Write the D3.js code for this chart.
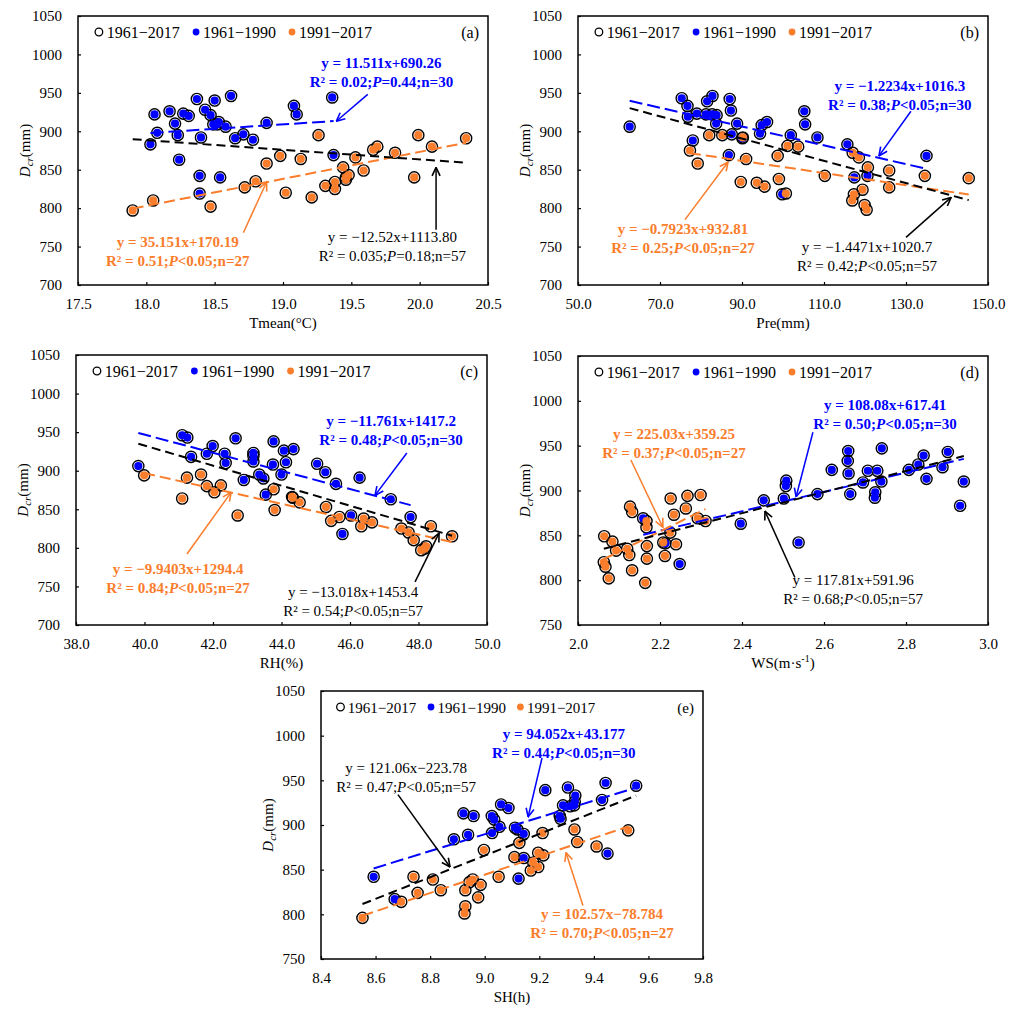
<!DOCTYPE html>
<html>
<head>
<meta charset="utf-8">
<script src="https://cdnjs.cloudflare.com/ajax/libs/d3/7.8.5/d3.min.js"></script>
<style>
body{margin:0;background:#fff}
svg{font-family:"Liberation Serif","Times New Roman",serif}
</style>
</head>
<body>
<svg id="chart" width="1017" height="1012"></svg>
<script>
// D_cr vs climate factors, 1961-1990 (blue) and 1991-2017 (orange)
var aBlue=[[18.03,883],[18.06,922],[18.08,898],[18.17,926],[18.21,910],[18.23,895],[18.27,923],[18.31,920],[18.24,863],[18.37,942],[18.43,928],[18.50,940],[18.47,921],[18.49,909],[18.53,912],[18.52,909],[18.58,906],[18.40,892],[18.62,946],[18.65,891],[18.71,896],[18.78,889],[18.88,911],[19.08,933],[19.10,922],[19.36,944],[19.37,869],[18.39,842],[18.54,840],[18.39,819]];
var aOrange=[[17.90,797],[18.05,810],[18.47,802],[18.72,827],[18.80,835],[18.88,858],[18.98,868],[19.02,820],[19.13,864],[19.21,814],[19.26,895],[19.31,829],[19.38,834],[19.38,825],[19.44,853],[19.46,840],[19.48,843],[19.46,837],[19.53,866],[19.59,849],[19.66,876],[19.69,880],[19.82,872],[19.96,840],[19.99,895],[20.09,880],[20.34,891]];
var bBlue=[[62.6,906],[75.3,943],[76.7,933],[76.8,919],[79.0,923],[81.2,922],[81.5,939],[82.8,946],[82.7,922],[83.8,921],[83.7,910],[78.0,888],[87.0,942],[87.3,927],[87.5,896],[86.8,869],[88.8,910],[90.1,891],[94.4,897],[94.8,908],[96.1,912],[105.2,926],[105.4,909],[108.4,892],[101.9,895],[115.7,883],[117.4,840],[120.6,842],[99.8,818],[135.0,868]];
var bOrange=[[77.3,875],[79.2,858],[82.0,895],[85.2,895],[90.2,892],[89.7,834],[91.0,864],[93.6,833],[95.5,828],[98.7,868],[99.0,838],[100.7,819],[101.1,881],[103.7,880],[110.2,842],[117.0,872],[118.5,866],[117.3,818],[116.9,810],[119.4,824],[119.9,804],[120.4,798],[120.7,853],[125.9,849],[125.9,827],[134.6,842],[145.3,839]];
var cBlue=[[39.82,906],[41.10,946],[41.25,943],[41.36,918],[41.82,922],[41.99,932],[42.34,922],[42.37,910],[42.66,942],[42.90,888],[43.18,923],[43.18,919],[43.18,912],[43.35,895],[43.47,890],[43.54,869],[43.77,938],[43.75,908],[44.00,895],[44.07,926],[44.13,911],[44.35,928],[45.04,909],[45.28,898],[45.59,883],[46.03,842],[45.78,818],[46.28,891],[47.19,863],[47.77,840]];
var cOrange=[[39.99,894],[41.10,864],[41.24,891],[41.65,895],[41.82,880],[42.04,872],[42.23,881],[42.72,842],[43.77,876],[43.80,849],[44.31,866],[44.33,865],[44.53,859],[45.30,853],[45.45,835],[45.69,840],[46.33,828],[46.40,838],[46.64,833],[47.50,825],[47.71,820],[47.86,810],[48.08,797],[48.22,802],[48.18,799],[48.36,828],[48.98,815]];
var dBlue=[[2.159,869],[2.213,841],[2.248,818],[2.397,863],[2.453,889],[2.502,891],[2.508,911],[2.507,905],[2.538,842],[2.584,896],[2.619,923],[2.659,944],[2.658,933],[2.660,919],[2.664,896],[2.695,909],[2.707,922],[2.730,922],[2.725,898],[2.724,892],[2.740,910],[2.741,947],[2.807,923],[2.830,929],[2.843,939],[2.850,913],[2.889,926],[2.902,943],[2.932,883],[2.941,910]];
var dOrange=[[2.064,849],[2.063,820],[2.067,815],[2.075,802],[2.084,843],[2.093,833],[2.120,835],[2.127,882],[2.132,876],[2.125,828],[2.132,811],[2.164,797],[2.167,866],[2.167,859],[2.168,838],[2.168,824],[2.208,842],[2.212,827],[2.226,891],[2.234,873],[2.239,840],[2.263,880],[2.267,894],[2.292,869],[2.299,895],[2.311,866],[2.225,853]];
var eBlue=[[8.593,842],[8.670,817],[8.887,884],[8.922,913],[8.939,889],[8.959,910],[9.026,910],[9.035,906],[9.027,891],[9.054,898],[9.060,923],[9.087,919],[9.111,897],[9.120,895],[9.124,840],[9.143,890],[9.143,863],[9.222,939],[9.275,910],[9.278,907],[9.287,922],[9.305,942],[9.313,921],[9.328,922],[9.332,933],[9.330,926],[9.430,928],[9.443,947],[9.450,868],[9.555,944]];
var eOrange=[[8.552,796],[8.694,814],[8.739,842],[8.754,824],[8.810,839],[8.839,827],[8.926,801],[8.929,809],[8.929,827],[8.944,836],[8.956,839],[8.976,819],[8.985,833],[8.997,872],[9.051,842],[9.109,864],[9.127,880],[9.169,849],[9.178,858],[9.196,853],[9.196,869],[9.215,866],[9.212,891],[9.329,895],[9.339,881],[9.410,876],[9.526,894]];

// fits: blue, orange, black (slope, intercept)
var aFits=[[11.511,690.26],[35.151,170.19],[-12.52,1113.80]];
var bFits=[[-1.2234,1016.3],[-0.7923,932.81],[-1.4471,1020.7]];
var cFits=[[-11.761,1417.2],[-9.9403,1294.4],[-13.018,1453.4]];
var dFits=[[108.08,617.41],[225.03,359.25],[117.81,591.96]];
var eFits=[[94.052,43.177],[102.57,-78.784],[121.06,-223.78]];

var aEq=[["y = 11.511x+690.26","R² = 0.02;P=0.44;n=30"],["y = 35.151x+170.19","R² = 0.51;P<0.05;n=27"],["y = −12.52x+1113.80","R² = 0.035;P=0.18;n=57"]];
var bEq=[["y = −1.2234x+1016.3","R² = 0.38;P<0.05;n=30"],["y = −0.7923x+932.81","R² = 0.25;P<0.05;n=27"],["y = −1.4471x+1020.7","R² = 0.42;P<0.05;n=57"]];
var cEq=[["y = −11.761x+1417.2","R² = 0.48;P<0.05;n=30"],["y = −9.9403x+1294.4","R² = 0.84;P<0.05;n=27"],["y = −13.018x+1453.4","R² = 0.54;P<0.05;n=57"]];
var dEq=[["y = 108.08x+617.41","R² = 0.50;P<0.05;n=30"],["y = 225.03x+359.25","R² = 0.37;P<0.05;n=27"],["y = 117.81x+591.96","R² = 0.68;P<0.05;n=57"]];
var eEq=[["y = 94.052x+43.177","R² = 0.44;P<0.05;n=30"],["y = 102.57x−78.784","R² = 0.70;P<0.05;n=27"],["y = 121.06x−223.78","R² = 0.47;P<0.05;n=57"]];

var legendNames=["1961−2017","1961−1990","1991−2017"];
var yTicks1=[700,750,800,850,900,950,1000,1050];
var yTicks2=[750,800,850,900,950,1000,1050];

var BLUE="#0000ff", ORANGE="#fa7d2c", BLACK="#000";
var colors=[BLUE,ORANGE,BLACK];
var dashes=["13,5","11,5","9,5"];

// layout: plot box, axes, annotation spots (text centre, arrow from/to) in data units
var panels=[
  {id:"(a)",blue:aBlue,orange:aOrange,fits:aFits,eq:aEq,l:78,t:16,r:488,b:285,lf:16,
   xDom:[17.5,20.5],xTicks:[17.5,18,18.5,19,19.5,20,20.5],yDom:[700,1050],yTicks:yTicks1,xTitle:"Tmean(°C)",
   notes:[[19.72,989,19.62,948,19.39,913],[18.23,756,18.71,768,18.88,834],[19.80,762,20.12,772,20.12,853]]},
  {id:"(b)",blue:bBlue,orange:bOrange,fits:bFits,eq:bEq,l:578,t:16,r:988,b:285,lf:16,
   xDom:[50,150],xTicks:[50,70,90,110,130,150],yDom:[700,1050],yTicks:yTicks1,xTitle:"Pre(mm)",
   notes:[[128.5,959,131.2,926,123.4,868],[75.6,773,76.1,785,86.6,860],[120.5,749,130,762,141,814]]},
  {id:"(c)",blue:cBlue,orange:cOrange,fits:cFits,eq:cEq,l:76,t:355,r:487,b:625,lf:16,
   xDom:[38,50],xTicks:[38,40,42,44,46,48,50],yDom:[700,1050],yTicks:yTicks1,xTitle:"RH(%)",
   notes:[[47.2,964,47.66,923,46.73,868],[40.98,773,41.24,792,42.53,872],[46.09,743,47.9,756,48.6,819]]},
  {id:"(d)",blue:dBlue,orange:dOrange,fits:dFits,eq:dEq,l:578,t:356,r:988,b:625,lf:16,
   xDom:[2,3],xTicks:[2,2.2,2.4,2.6,2.8,3],yDom:[750,1050],yTicks:yTicks2,xTitle:"WS",
   notes:[[2.749,995,2.573,965,2.532,893],[2.234,963,2.129,934,2.207,859],[2.671,800,2.529,803,2.456,877]]},
  {id:"(e)",blue:eBlue,orange:eOrange,fits:eFits,eq:eEq,l:321,t:691,r:703,b:959,lf:15,
   xDom:[8.4,9.8],xTicks:[8.4,8.6,8.8,9,9.2,9.4,9.6,9.8],yDom:[750,1050],yTicks:yTicks2,xTitle:"SH(h)",
   notes:[[9.29,1002,9.21,975,9.159,909],[9.43,800,9.36,810,9.298,869],[8.712,964,8.682,934,8.873,853]]}
];

var svg=d3.select("#chart");
var defs=svg.append("defs");
colors.forEach(function(c,i){
  defs.append("marker").attr("id","arr"+i)
    .attr("viewBox","0 0 10 10").attr("refX",9.5).attr("refY",5)
    .attr("markerWidth",10).attr("markerHeight",10).attr("markerUnits","userSpaceOnUse")
    .attr("orient","auto")
    .append("path").attr("d","M1,1 L9.5,5 L1,9").attr("fill","none")
    .attr("stroke",c).attr("stroke-width",1.6);
});

panels.forEach(drawPanel);

function drawPanel(p){
  var g=svg.append("g");
  var x=d3.scaleLinear().domain(p.xDom).range([p.l,p.r]);
  var y=d3.scaleLinear().domain(p.yDom).range([p.b,p.t]);
  var w=p.r-p.l;

  var xa=g.append("g").attr("transform","translate(0,"+p.b+")")
    .call(d3.axisBottom(x).tickValues(p.xTicks).tickFormat(d3.format(".1f")).tickSizeInner(-3).tickSizeOuter(0).tickPadding(13));
  var ya=g.append("g").attr("transform","translate("+p.l+",0)")
    .call(d3.axisLeft(y).tickValues(p.yTicks).tickFormat(d3.format("d")).tickSizeInner(-3).tickSizeOuter(0).tickPadding(16));
  [xa,ya].forEach(function(a){
    a.attr("font-family",null).attr("font-size",15);
    a.select(".domain").remove();
    a.selectAll("line").attr("stroke","#000").attr("stroke-width",1.2);
    a.selectAll("text").attr("fill","#000");
  });
  g.append("rect").attr("x",p.l).attr("y",p.t).attr("width",w).attr("height",p.b-p.t)
    .attr("fill","none").attr("stroke","#000").attr("stroke-width",1.5);

  // axis titles
  var xt=g.append("text").attr("x",(p.l+p.r)/2).attr("y",p.b+43).attr("text-anchor","middle").attr("font-size",15);
  if(p.xTitle=="WS"){
    xt.append("tspan").text("WS(m·s");
    xt.append("tspan").attr("dy",-6).attr("font-size",10).text("-1");
    xt.append("tspan").attr("dy",6).text(")");
  }else xt.text(p.xTitle);
  var yt=g.append("text").attr("text-anchor","middle").attr("font-size",15)
    .attr("transform","translate("+(p.l-48)+","+((p.t+p.b)/2)+") rotate(-90)");
  yt.append("tspan").attr("font-style","italic").text("D");
  yt.append("tspan").attr("font-style","italic").attr("font-size",11).attr("dy",3).text("cr");
  yt.append("tspan").attr("dy",-3).text("(mm)");

  // points: black rings for all years, then coloured dots
  var all=p.blue.concat(p.orange);
  g.append("g").selectAll("circle").data(all).join("circle")
    .attr("cx",function(d){return x(d[0]);}).attr("cy",function(d){return y(d[1]);})
    .attr("r",5.6).attr("fill","none").attr("stroke","#000").attr("stroke-width",1.4);
  [p.blue,p.orange].forEach(function(set,i){
    g.append("g").selectAll("circle").data(set).join("circle")
      .attr("cx",function(d){return x(d[0]);}).attr("cy",function(d){return y(d[1]);})
      .attr("r",4.1).attr("fill",colors[i]);
  });

  // trend lines over each group's x-range
  [p.blue,p.orange,all].forEach(function(set,i){
    var ext=d3.extent(set,function(d){return d[0];});
    var f=p.fits[i];
    g.append("line")
      .attr("x1",x(ext[0])).attr("y1",y(f[0]*ext[0]+f[1]))
      .attr("x2",x(ext[1])).attr("y2",y(f[0]*ext[1]+f[1]))
      .attr("stroke",colors[i]).attr("stroke-width",2).attr("stroke-dasharray",dashes[i]);
  });

  // equations and arrows
  p.notes.forEach(function(n,i){
    var bold=i<2?"bold":"normal";
    var cx=x(n[0]), cy=y(n[1]);
    g.append("text").attr("x",cx).attr("y",cy+5).attr("text-anchor","middle")
      .attr("font-size",15).attr("font-weight",bold).attr("fill",colors[i]).text(p.eq[i][0]);
    var parts=p.eq[i][1].split("P");
    var t2=g.append("text").attr("x",cx).attr("y",cy+24).attr("text-anchor","middle")
      .attr("font-size",15).attr("font-weight",bold).attr("fill",colors[i]);
    t2.append("tspan").text(parts[0]);
    t2.append("tspan").attr("font-style","italic").text("P");
    t2.append("tspan").text(parts[1]);
    g.append("line").attr("x1",x(n[2])).attr("y1",y(n[3])).attr("x2",x(n[4])).attr("y2",y(n[5]))
      .attr("stroke",colors[i]).attr("stroke-width",1.5).attr("marker-end","url(#arr"+i+")");
  });

  // legend
  var ly=p.t+16;
  var lg=g.append("g").attr("font-size",p.lf);
  lg.append("circle").attr("cx",p.l+w*0.051).attr("cy",ly).attr("r",3.8).attr("fill","none").attr("stroke","#000").attr("stroke-width",1.3);
  lg.append("circle").attr("cx",p.l+w*0.288).attr("cy",ly).attr("r",3.4).attr("fill",BLUE);
  lg.append("circle").attr("cx",p.l+w*0.522).attr("cy",ly).attr("r",3.4).attr("fill",ORANGE);
  [0.07,0.305,0.539].forEach(function(fx,i){
    lg.append("text").attr("x",p.l+w*fx).attr("y",ly+5.5).text(legendNames[i]);
  });
  g.append("text").attr("x",p.r-9).attr("y",ly+5.5).attr("text-anchor","end").attr("font-size",p.lf).text(p.id);
}
</script>
</body>
</html>
